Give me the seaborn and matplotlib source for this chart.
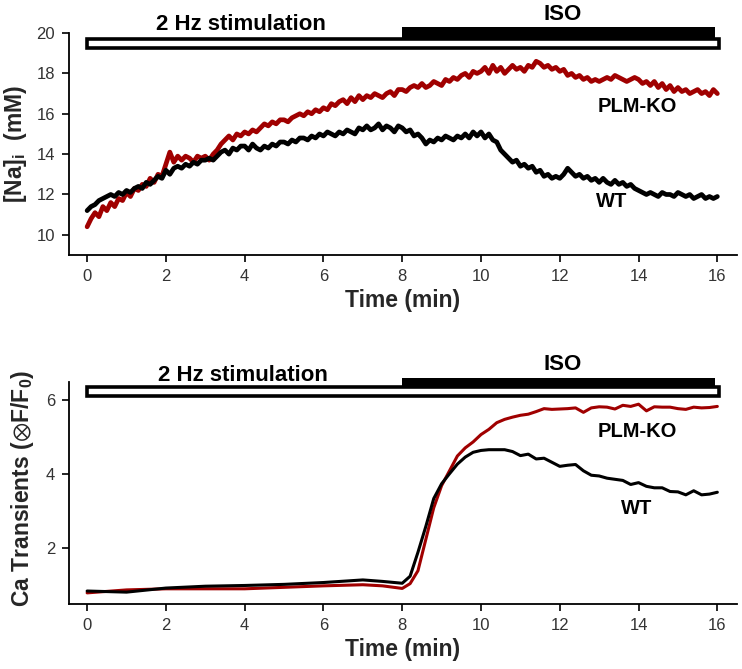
import numpy as np
import pandas as pd
import matplotlib
matplotlib.use('Agg')
import matplotlib.pyplot as plt
from matplotlib.patches import Rectangle
import seaborn as sns

# ---- data ----
na_time = np.round(np.linspace(0, 16, 161), 1)

na_wt = [
    11.2, 11.4, 11.5, 11.7, 11.8, 11.9, 12.0, 11.9, 12.1, 12.0,
    12.2, 12.1, 12.3, 12.4, 12.3, 12.6, 12.5, 12.7, 12.9, 12.8,
    13.2, 13.0, 13.3, 13.4, 13.3, 13.5, 13.4, 13.6, 13.5, 13.7,
    13.7, 13.8, 13.7, 13.9, 14.1, 14.2, 14.0, 14.3, 14.2, 14.4,
    14.4, 14.2, 14.5, 14.3, 14.2, 14.4, 14.3, 14.5, 14.4, 14.6,
    14.6, 14.5, 14.7, 14.6, 14.8, 14.8, 14.7, 14.9, 14.8, 15.0,
    14.9, 15.1, 15.0, 14.9, 15.1, 15.0, 15.2, 15.1, 15.0, 15.3,
    15.2, 15.4, 15.2, 15.3, 15.5, 15.2, 15.4, 15.3, 15.1, 15.4,
    15.3, 15.1, 15.2, 14.9, 15.0, 14.8, 14.5, 14.7, 14.6, 14.8,
    14.7, 14.9, 14.8, 14.7, 14.9, 14.8, 15.0, 14.8, 15.1, 14.9,
    15.1, 14.8, 15.0, 14.7, 14.6, 14.2, 14.0, 13.8, 13.6, 13.7,
    13.4, 13.5, 13.3, 13.4, 13.1, 13.2, 12.9, 13.0, 12.8, 12.9,
    12.8, 13.0, 13.3, 13.1, 12.9, 13.0, 12.8, 12.9, 12.7, 12.8,
    12.6, 12.8, 12.6, 12.5, 12.7, 12.5, 12.6, 12.4, 12.5, 12.3,
    12.2, 12.1, 12.0, 12.1, 12.0, 11.9, 12.1, 12.0, 12.0, 11.9,
    12.1, 12.0, 11.9, 12.0, 11.8, 11.9, 12.0, 11.8, 11.9, 11.8,
    11.9,
]

na_ko = [
    10.4, 10.8, 11.1, 10.9, 11.4, 11.2, 11.6, 11.4, 11.8, 11.7,
    12.1, 11.9, 12.3, 12.2, 12.5, 12.4, 12.8, 12.6, 13.0, 12.9,
    13.5, 14.1, 13.6, 13.9, 13.7, 13.9, 13.8, 13.6, 13.9, 13.8,
    13.9, 13.7, 14.0, 14.2, 14.5, 14.7, 14.9, 14.7, 15.0, 14.9,
    15.1, 15.0, 15.2, 15.1, 15.3, 15.5, 15.4, 15.6, 15.5, 15.7,
    15.7, 15.6, 15.8, 15.9, 16.0, 15.9, 16.1, 16.0, 16.2, 16.1,
    16.3, 16.2, 16.5, 16.4, 16.6, 16.7, 16.5, 16.8, 16.6, 16.9,
    16.7, 16.9, 16.8, 17.0, 16.9, 16.8, 17.0, 17.1, 16.9, 17.2,
    17.2, 17.1, 17.3, 17.4, 17.3, 17.5, 17.3, 17.4, 17.6, 17.5,
    17.4, 17.7, 17.6, 17.8, 17.7, 17.9, 18.0, 17.8, 18.1, 18.0,
    18.1, 18.3, 18.0, 18.4, 18.1, 18.3, 18.0, 18.2, 18.4, 18.2,
    18.3, 18.1, 18.4, 18.3, 18.6, 18.5, 18.3, 18.4, 18.2, 18.3,
    18.1, 18.2, 17.9, 18.0, 17.8, 17.9, 17.7, 17.8, 17.6, 17.7,
    17.6, 17.7, 17.8, 17.7, 17.9, 17.8, 17.7, 17.6, 17.7, 17.8,
    17.7, 17.5, 17.6, 17.4, 17.6, 17.3, 17.5, 17.2, 17.4, 17.1,
    17.3, 17.1, 17.2, 17.0, 17.1, 17.2, 17.0, 17.1, 16.9, 17.2,
    17.0,
]

ca_time = [0, 1, 2, 3, 4, 5, 6, 7, 7.5] + list(np.round(np.arange(8, 16.01, 0.2), 1))

ca_wt = [
    0.85, 0.82, 0.93, 0.98, 1.00, 1.03, 1.08, 1.15, 1.11,
    1.06, 1.25, 1.90, 2.60, 3.35, 3.75, 4.02, 4.28, 4.47, 4.60,
    4.65, 4.67, 4.67, 4.67, 4.62, 4.51, 4.55, 4.42, 4.44, 4.33,
    4.22, 4.25, 4.27, 4.10, 3.98, 3.96, 3.90, 3.87, 3.84, 3.73,
    3.78, 3.68, 3.64, 3.64, 3.54, 3.53, 3.45, 3.56, 3.45, 3.47,
    3.52,
]

ca_ko = [
    0.80, 0.88, 0.91, 0.91, 0.91, 0.95, 0.99, 1.02, 0.99,
    0.92, 1.05, 1.40, 2.25, 3.10, 3.70, 4.10, 4.50, 4.72, 4.88,
    5.08, 5.22, 5.40, 5.49, 5.55, 5.60, 5.63, 5.70, 5.78, 5.76,
    5.77, 5.78, 5.80, 5.68, 5.80, 5.83, 5.82, 5.77, 5.87, 5.84,
    5.90, 5.72, 5.83, 5.82, 5.82, 5.78, 5.76, 5.82, 5.80, 5.81,
    5.84,
]

stim_period = [0, 16]
iso_period = [8, 16]

na_df = pd.concat([
    pd.DataFrame({'time': na_time, 'value': na_wt, 'genotype': 'WT'}),
    pd.DataFrame({'time': na_time, 'value': na_ko, 'genotype': 'PLM-KO'}),
])
ca_df = pd.concat([
    pd.DataFrame({'time': ca_time, 'value': ca_wt, 'genotype': 'WT'}),
    pd.DataFrame({'time': ca_time, 'value': ca_ko, 'genotype': 'PLM-KO'}),
])

palette = {'WT': 'black', 'PLM-KO': '#a00000'}

sns.set_style('ticks')
plt.rcParams['font.family'] = ['Liberation Sans', 'DejaVu Sans']
plt.rcParams['mathtext.default'] = 'regular'

fig = plt.figure(figsize=(7.42, 6.69), dpi=100)
ax1 = fig.add_axes([0.093, 0.6188, 0.9003, 0.3318])
ax2 = fig.add_axes([0.093, 0.0972, 0.9003, 0.3318])

sns.lineplot(data=na_df, x='time', y='value', hue='genotype', palette=palette,
             hue_order=['PLM-KO', 'WT'], linewidth=3.4, legend=False, ax=ax1)
sns.lineplot(data=ca_df, x='time', y='value', hue='genotype', palette=palette,
             hue_order=['PLM-KO', 'WT'], linewidth=2.2, legend=False, ax=ax2)


def style_axis(ax, ylim, yticks):
    ax.set_xlim(-0.46, 16.5)
    ax.set_ylim(*ylim)
    ax.set_xticks(range(0, 17, 2))
    ax.set_yticks(yticks)
    sns.despine(ax=ax)
    for s in ['left', 'bottom']:
        ax.spines[s].set_linewidth(1.3)
        ax.spines[s].set_color('black')
    ax.tick_params(length=5, width=1.2, pad=5, labelsize=12,
                   labelcolor='#333333', color='black')
    ax.set_xlabel('Time (min)', fontsize=16.5, fontweight='bold', labelpad=4)


def bars(ax, white_y, black_y):
    ax.add_patch(Rectangle((stim_period[0], white_y[0]),
                           stim_period[1] + 0.05 - stim_period[0],
                           white_y[1] - white_y[0],
                           facecolor='white', edgecolor='black', linewidth=2.6,
                           clip_on=False, zorder=5))
    ax.add_patch(Rectangle((iso_period[0], black_y[0]),
                           iso_period[1] - 0.05 - iso_period[0],
                           black_y[1] - black_y[0],
                           facecolor='black', edgecolor='none',
                           clip_on=False, zorder=4))


style_axis(ax1, (9, 20), [10, 12, 14, 16, 18, 20])
style_axis(ax2, (0.5, 6.5), [2, 4, 6])

bars(ax1, (19.28, 19.72), (19.72, 20.3))
bars(ax2, (6.13, 6.36), (6.36, 6.6))

txt = dict(fontweight='bold', ha='center', va='center', color='black')
ax1.text(3.9, 20.4, '2 Hz stimulation', fontsize=16, **txt)
ax1.text(12.08, 20.94, 'ISO', fontsize=16, **txt)
ax1.text(13.98, 16.34, 'PLM-KO', fontsize=14.5, **txt)
ax1.text(13.32, 11.63, 'WT', fontsize=14.5, **txt)

ax2.text(3.96, 6.68, '2 Hz stimulation', fontsize=16, **txt)
ax2.text(12.08, 6.97, 'ISO', fontsize=16, **txt)
ax2.text(13.98, 5.16, 'PLM-KO', fontsize=14.5, **txt)
ax2.text(13.96, 3.08, 'WT', fontsize=14.5, **txt)

ax1.set_ylabel('[Na]$_i$  (mM)', fontsize=16.5, fontweight='bold')
ax1.yaxis.set_label_coords(-0.06, 0.5)
ax2.set_ylabel(r'Ca Transients (${\otimes}$F/F$_0$)', fontsize=16.5, fontweight='bold')
ax2.yaxis.set_label_coords(-0.05, 0.52)

fig.savefig('out.png', dpi=100)
